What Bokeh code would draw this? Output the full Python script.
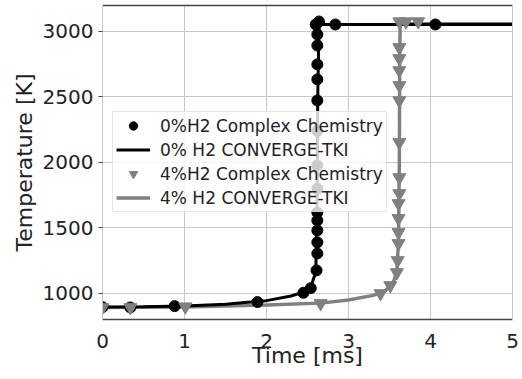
from bokeh.plotting import figure
from bokeh.models import Range1d, FixedTicker, LinearAxis, Legend, LegendItem
from bokeh.embed import file_html
from bokeh.resources import INLINE

# 0% H2 complex chemistry (markers)
t_cc0 = [0.0, 0.34, 0.88, 1.89, 2.45, 2.54, 2.61, 2.62, 2.62, 2.62, 2.62, 2.62, 2.62,
         2.62, 2.62, 2.62, 2.62, 2.62, 2.62, 2.62, 2.60, 2.64, 2.84, 4.06]
T_cc0 = [895, 893, 903, 934, 1005, 1040, 1176, 1305, 1390, 1481, 1557, 1618, 1800,
         1977, 2240, 2473, 2634, 2748, 2893, 2977, 3053, 3076, 3053, 3053]

# 0% H2 CONVERGE-TKI (line)
t_tk0 = [0.0, 0.5, 1.0, 1.5, 2.0, 2.3, 2.45, 2.55, 2.6, 2.615, 2.625, 2.64, 2.66, 5.0]
T_tk0 = [897, 899, 905, 918, 945, 980, 1010, 1070, 1160, 1500, 2500, 3020, 3053, 3053]

# 4% H2 complex chemistry (markers)
t_cc4 = [0.0, 0.34, 1.01, 2.66, 3.39, 3.51, 3.59, 3.60, 3.61, 3.61, 3.61, 3.61, 3.62,
         3.62, 3.62, 3.62, 3.62, 3.62, 3.62, 3.62, 3.62, 3.70, 3.85]
T_cc4 = [893, 893, 899, 924, 1000, 1061, 1160, 1252, 1382, 1466, 1573, 1687, 1763,
         1885, 2153, 2473, 2588, 2702, 2794, 2878, 3075, 3075, 3075]

# 4% H2 CONVERGE-TKI (line)
t_tk4 = [0.0, 1.0, 2.0, 2.66, 3.0, 3.3, 3.45, 3.55, 3.59, 3.61, 3.62, 3.625, 3.63, 3.65, 5.0]
T_tk4 = [893, 897, 912, 926, 950, 985, 1020, 1090, 1170, 1400, 2000, 2800, 3040, 3058, 3058]

x_ticks = [0, 1, 2, 3, 4, 5]
y_ticks = [1000, 1500, 2000, 2500, 3000]

labels = ["0%H2 Complex Chemistry", "0% H2 CONVERGE-TKI",
          "4%H2 Complex Chemistry", "4% H2 CONVERGE-TKI"]

FONT = "DejaVu Sans"
TXT = "#222222"

p = figure(width=522, height=379, output_backend="svg", toolbar_location=None,
           x_range=Range1d(0, 5), y_range=Range1d(801, 3198),
           min_border_left=102, min_border_right=10, min_border_top=5, min_border_bottom=60)
p.outline_line_color = None
p.background_fill_color = "white"
p.border_fill_color = "white"

# grid
p.xgrid.ticker = FixedTicker(ticks=x_ticks)
p.ygrid.ticker = FixedTicker(ticks=y_ticks)
for g in (p.xgrid, p.ygrid):
    g.grid_line_color = "#c8c8c8"
    g.grid_line_width = 1

# axes
xa = p.xaxis[0]
xa.ticker = FixedTicker(ticks=x_ticks)
xa.axis_label = "Time [ms]"
xa.axis_line_color = "#444444"
xa.axis_line_width = 1.5
xa.major_tick_out = 0
xa.major_tick_in = 0
xa.minor_tick_out = 0
xa.minor_tick_in = 0
xa.major_label_standoff = 14
xa.axis_label_standoff = -8

ya = p.yaxis[0]
ya.ticker = FixedTicker(ticks=y_ticks)
ya.axis_label = "Temperature [K]"
ya.axis_line_color = "#c8c8c8"
ya.major_tick_out = 4
ya.major_tick_in = 0
ya.major_tick_line_color = "#444444"
ya.minor_tick_out = 0
ya.minor_tick_in = 0
ya.major_label_standoff = 5
ya.axis_label_standoff = 3

for a in (xa, ya):
    a.major_label_text_font = FONT
    a.major_label_text_font_size = "20px"
    a.major_label_text_color = TXT
    a.axis_label_text_font = FONT
    a.axis_label_text_font_size = "22px"
    a.axis_label_text_font_style = "normal"
    a.axis_label_text_color = TXT

top = LinearAxis(ticker=FixedTicker(ticks=[]), axis_line_color="#444444", axis_line_width=1.5,
                 major_tick_out=0, major_tick_in=0, minor_tick_out=0, minor_tick_in=0,
                 major_label_text_font_size="0px", major_label_standoff=0)
right = LinearAxis(ticker=FixedTicker(ticks=[]), axis_line_color="#c8c8c8",
                   major_tick_out=0, major_tick_in=0, minor_tick_out=0, minor_tick_in=0,
                   major_label_text_font_size="0px", major_label_standoff=0)
p.add_layout(top, "above")
p.add_layout(right, "right")

GRAY = "#808080"
r_tk4 = p.line(t_tk4, T_tk4, line_color=GRAY, line_width=3.5)
r_tk0 = p.line(t_tk0, T_tk0, line_color="black", line_width=3)
r_cc0 = p.scatter(t_cc0, T_cc0, marker="circle", size=11, fill_color="black", line_color="black")
r_cc4 = p.scatter(t_cc4, T_cc4, marker="inverted_triangle", size=13, fill_color=GRAY, line_color=GRAY)

legend = Legend(items=[
    LegendItem(label=labels[0], renderers=[r_cc0]),
    LegendItem(label=labels[1], renderers=[r_tk0]),
    LegendItem(label=labels[2], renderers=[r_cc4]),
    LegendItem(label=labels[3], renderers=[r_tk4]),
], location=(10, 107))
legend.label_text_font = FONT
legend.label_text_font_size = "17px"
legend.label_text_color = TXT
legend.glyph_width = 34
legend.glyph_height = 21
legend.label_height = 21
legend.label_standoff = 10
legend.spacing = 3
legend.padding = 3
legend.margin = 0
legend.border_line_color = "#d0d0d0"
legend.border_line_width = 1
legend.background_fill_color = "white"
legend.background_fill_alpha = 0.8
p.add_layout(legend, "center")

open("out.html", "w").write(file_html(p, INLINE))
